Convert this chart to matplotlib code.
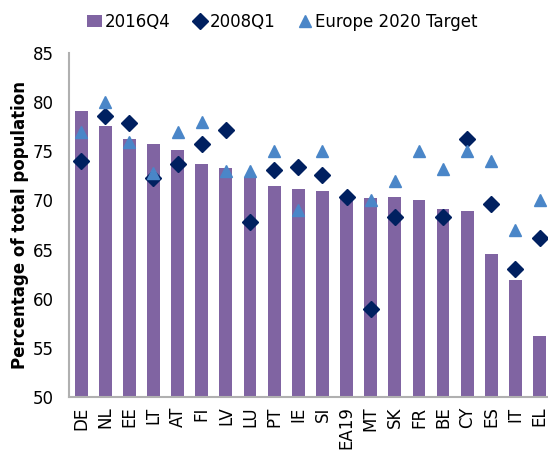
import numpy as np
import matplotlib
matplotlib.use("Agg")
import matplotlib.pyplot as plt

countries = ["DE", "NL", "EE", "LT", "AT", "FI", "LV", "LU", "PT", "IE",
             "SI", "EA19", "MT", "SK", "FR", "BE", "CY", "ES", "IT", "EL"]
q2016 = [79.1, 77.6, 76.3, 75.7, 75.1, 73.7, 73.3, 72.4, 71.5, 71.2,
         71.0, 70.4, 70.2, 70.4, 70.0, 69.1, 68.9, 64.5, 61.9, 56.2]
q2008 = [74.0, 78.6, 77.9, 72.3, 73.7, 75.7, 77.2, 67.8, 73.1, 73.4,
         72.6, 70.4, 58.9, 68.3, np.nan, 68.3, 76.3, 69.6, 63.0, 66.2]
target = [77.0, 80.0, 76.0, 72.8, 77.0, 78.0, 73.0, 73.0, 75.0, 69.0,
          75.0, np.nan, 70.0, 72.0, 75.0, 73.2, 75.0, 74.0, 67.0, 70.0]

plt.rcParams['font.family'] = ['DejaVu Sans']
fig = plt.figure(figsize=(5.48, 4.5), dpi=100)
ax = fig.add_axes([0.126, 0.118, 0.874, 0.764])

x = np.arange(len(countries))
b = ax.bar(x, q2016, width=0.53, color="#8064A2", label="2016Q4", zorder=2)
d, = ax.plot(x, q2008, linestyle="none", marker="D", markersize=8, color="#002060",
             label="2008Q1", zorder=3)
t, = ax.plot(x, target, linestyle="none", marker="^", markersize=9, color="#4A86C8",
             label="Europe 2020 Target", zorder=4)

ax.set_ylim(50, 85)
ax.set_xlim(-0.5, 19.35)
ax.set_yticks(np.arange(50, 86, 5))
ax.set_xticks(x)
ax.set_xticklabels(countries, rotation=90, fontsize=12)
ax.tick_params(axis='y', labelsize=12, length=0, pad=11)
ax.tick_params(axis='x', length=0, pad=7)
for s in ["top", "right"]:
    ax.spines[s].set_visible(False)
for s in ["left", "bottom"]:
    ax.spines[s].set_color("#B0B0B0")
    ax.spines[s].set_linewidth(1.5)
ax.set_ylabel("Percentage of total population", fontsize=12, fontweight="bold")
ax.yaxis.set_label_coords(-0.083, 0.5)

fig.legend(handles=[b, d, t], loc="upper center", bbox_to_anchor=(0.515, 1.005), ncol=3,
           frameon=False, fontsize=12, handletextpad=0.15, columnspacing=1.3,
           handlelength=0.9)

fig.savefig("out.png", dpi=100)
